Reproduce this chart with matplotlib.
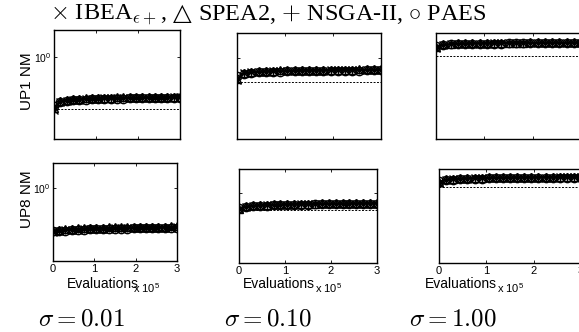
import matplotlib
matplotlib.use("Agg")
import matplotlib.pyplot as plt
from matplotlib.ticker import NullLocator, FixedLocator, NullFormatter

plt.rcParams["font.family"] = ["Liberation Sans", "DejaVu Sans"]
plt.rcParams["mathtext.fontset"] = "cm"

# Evaluations, in units of 1e5
evals = [0.0, 0.15, 0.3, 0.45, 0.6, 0.75, 0.9, 1.05, 1.2, 1.35, 1.5,
         1.65, 1.8, 1.95, 2.1, 2.25, 2.4, 2.55, 2.7, 2.85, 3.0]

algorithms = ["IBEA", "SPEA2", "NSGA-II", "PAES"]
sigmas = ["0.01", "0.10", "1.00"]
problems = ["UP1 NM", "UP8 NM"]

# UP1, sigma = 0.01
up1_s001_ibea = [0.350, 0.415, 0.425, 0.430, 0.434, 0.437, 0.439, 0.441, 0.443, 0.444, 0.445,
                 0.446, 0.447, 0.448, 0.449, 0.449, 0.450, 0.451, 0.451, 0.452, 0.452]
up1_s001_spea2 = [0.365, 0.425, 0.434, 0.439, 0.442, 0.445, 0.447, 0.448, 0.450, 0.451, 0.452,
                  0.453, 0.454, 0.455, 0.455, 0.456, 0.457, 0.457, 0.458, 0.458, 0.459]
up1_s001_nsga2 = [0.360, 0.420, 0.430, 0.435, 0.438, 0.441, 0.443, 0.445, 0.446, 0.447, 0.448,
                  0.449, 0.450, 0.451, 0.452, 0.452, 0.453, 0.454, 0.454, 0.455, 0.455]
up1_s001_paes = [0.380, 0.412, 0.420, 0.426, 0.430, 0.433, 0.435, 0.437, 0.439, 0.440, 0.441,
                 0.442, 0.443, 0.444, 0.445, 0.446, 0.446, 0.447, 0.447, 0.448, 0.448]
up1_s001_ref = 0.36

# UP1, sigma = 0.10
up1_s010_ibea = [0.640, 0.735, 0.750, 0.757, 0.762, 0.766, 0.769, 0.771, 0.773, 0.775, 0.776,
                 0.778, 0.779, 0.780, 0.781, 0.782, 0.783, 0.784, 0.785, 0.785, 0.786]
up1_s010_spea2 = [0.660, 0.748, 0.761, 0.768, 0.773, 0.777, 0.780, 0.782, 0.784, 0.786, 0.787,
                  0.789, 0.790, 0.791, 0.792, 0.793, 0.794, 0.795, 0.795, 0.796, 0.797]
up1_s010_nsga2 = [0.655, 0.742, 0.756, 0.763, 0.768, 0.772, 0.775, 0.777, 0.779, 0.781, 0.782,
                  0.783, 0.785, 0.786, 0.787, 0.788, 0.789, 0.789, 0.790, 0.791, 0.791]
up1_s010_paes = [0.700, 0.730, 0.744, 0.751, 0.756, 0.760, 0.763, 0.766, 0.768, 0.770, 0.771,
                 0.773, 0.774, 0.775, 0.776, 0.777, 0.778, 0.779, 0.780, 0.780, 0.781]
up1_s010_ref = 0.62

# UP1, sigma = 1.00
up1_s100_ibea = [0.760, 0.795, 0.803, 0.807, 0.810, 0.812, 0.813, 0.814, 0.815, 0.816, 0.817,
                 0.818, 0.818, 0.819, 0.819, 0.820, 0.820, 0.821, 0.821, 0.822, 0.822]
up1_s100_spea2 = [0.770, 0.805, 0.812, 0.816, 0.818, 0.820, 0.821, 0.822, 0.823, 0.824, 0.825,
                  0.826, 0.826, 0.827, 0.827, 0.828, 0.828, 0.829, 0.829, 0.830, 0.830]
up1_s100_nsga2 = [0.765, 0.800, 0.808, 0.812, 0.814, 0.816, 0.817, 0.818, 0.819, 0.820, 0.821,
                  0.822, 0.822, 0.823, 0.823, 0.824, 0.824, 0.825, 0.825, 0.826, 0.826]
up1_s100_paes = [0.790, 0.798, 0.803, 0.806, 0.808, 0.810, 0.811, 0.812, 0.813, 0.814, 0.815,
                 0.815, 0.816, 0.816, 0.817, 0.817, 0.818, 0.818, 0.819, 0.819, 0.820]
up1_s100_ref = 0.68

# UP8, sigma = 0.01
up8_s001_ibea = [0.380, 0.390, 0.395, 0.398, 0.400, 0.402, 0.404, 0.406, 0.407, 0.408, 0.410,
                 0.411, 0.412, 0.413, 0.414, 0.415, 0.416, 0.417, 0.418, 0.418, 0.419]
up8_s001_spea2 = [0.388, 0.400, 0.405, 0.409, 0.411, 0.413, 0.415, 0.417, 0.418, 0.420, 0.421,
                  0.422, 0.423, 0.424, 0.425, 0.426, 0.427, 0.428, 0.428, 0.429, 0.430]
up8_s001_nsga2 = [0.384, 0.395, 0.400, 0.403, 0.406, 0.408, 0.410, 0.411, 0.413, 0.414, 0.415,
                  0.416, 0.417, 0.418, 0.419, 0.420, 0.421, 0.422, 0.422, 0.423, 0.424]
up8_s001_paes = [0.385, 0.388, 0.392, 0.395, 0.397, 0.399, 0.401, 0.403, 0.404, 0.405, 0.407,
                 0.408, 0.409, 0.410, 0.411, 0.412, 0.412, 0.413, 0.414, 0.414, 0.415]
up8_s001_ref = 0.40

# UP8, sigma = 0.10
up8_s010_ibea = [0.690, 0.725, 0.740, 0.748, 0.754, 0.758, 0.762, 0.765, 0.768, 0.770, 0.772,
                 0.774, 0.776, 0.777, 0.779, 0.780, 0.781, 0.782, 0.783, 0.784, 0.785]
up8_s010_spea2 = [0.700, 0.738, 0.752, 0.760, 0.766, 0.770, 0.774, 0.777, 0.780, 0.782, 0.784,
                  0.786, 0.788, 0.789, 0.791, 0.792, 0.793, 0.794, 0.795, 0.796, 0.797]
up8_s010_nsga2 = [0.695, 0.732, 0.746, 0.754, 0.760, 0.764, 0.768, 0.771, 0.774, 0.776, 0.778,
                  0.780, 0.782, 0.783, 0.785, 0.786, 0.787, 0.788, 0.789, 0.790, 0.791]
up8_s010_paes = [0.710, 0.722, 0.735, 0.743, 0.749, 0.753, 0.757, 0.760, 0.763, 0.765, 0.767,
                 0.769, 0.771, 0.772, 0.774, 0.775, 0.776, 0.777, 0.778, 0.779, 0.780]
up8_s010_ref = 0.68

# UP8, sigma = 1.00
up8_s100_ibea = [0.750, 0.790, 0.800, 0.805, 0.809, 0.812, 0.814, 0.816, 0.818, 0.819, 0.820,
                 0.821, 0.822, 0.823, 0.824, 0.825, 0.825, 0.826, 0.826, 0.827, 0.827]
up8_s100_spea2 = [0.760, 0.800, 0.810, 0.815, 0.819, 0.822, 0.824, 0.826, 0.828, 0.829, 0.830,
                  0.831, 0.832, 0.833, 0.834, 0.835, 0.835, 0.836, 0.836, 0.837, 0.837]
up8_s100_nsga2 = [0.755, 0.795, 0.805, 0.810, 0.814, 0.817, 0.819, 0.821, 0.823, 0.824, 0.825,
                  0.826, 0.827, 0.828, 0.829, 0.830, 0.830, 0.831, 0.831, 0.832, 0.832]
up8_s100_paes = [0.780, 0.788, 0.796, 0.801, 0.805, 0.808, 0.810, 0.812, 0.814, 0.815, 0.816,
                 0.817, 0.818, 0.819, 0.820, 0.821, 0.821, 0.822, 0.822, 0.823, 0.823]
up8_s100_ref = 0.71

panels = [
    [(up1_s001_ibea, up1_s001_spea2, up1_s001_nsga2, up1_s001_paes, up1_s001_ref),
     (up1_s010_ibea, up1_s010_spea2, up1_s010_nsga2, up1_s010_paes, up1_s010_ref),
     (up1_s100_ibea, up1_s100_spea2, up1_s100_nsga2, up1_s100_paes, up1_s100_ref)],
    [(up8_s001_ibea, up8_s001_spea2, up8_s001_nsga2, up8_s001_paes, up8_s001_ref),
     (up8_s010_ibea, up8_s010_spea2, up8_s010_nsga2, up8_s010_paes, up8_s010_ref),
     (up8_s100_ibea, up8_s100_spea2, up8_s100_nsga2, up8_s100_paes, up8_s100_ref)],
]

# y-axis limits for each panel (log scale)
ylims = [[(0.2, 1.70), (0.2, 1.64), (0.2, 0.95)],
         [(0.2, 1.74), (0.2, 1.74), (0.2, 0.95)]]

# axes boxes in pixels: left, top, right, bottom
boxes = [[(54, 30, 180, 139), (237, 33, 381, 139), (436, 33, 581, 139)],
         [(53, 163, 177, 261), (239, 169, 377, 263), (439, 169, 581, 263)]]

markers = ["x", "^", "+", "o"]

W, H = 579, 332
fig = plt.figure(figsize=(W / 100, H / 100), dpi=100)


def fx(x):
    return x / W


def fy(y):
    return 1 - y / H


for r in range(2):
    for c in range(3):
        l, t, rr, b = boxes[r][c]
        ax = fig.add_axes([fx(l), fy(b), (rr - l) / W, (b - t) / H])
        ibea, spea2, nsga2, paes, ref = panels[r][c]
        ax.axhline(ref, color="black", lw=0.7, ls=(0, (2, 1.5)), zorder=1)
        for series, m in zip((ibea, spea2, nsga2, paes), markers):
            ax.plot(evals, series, color="black", lw=0.9, marker=m, ms=6,
                    mfc="none", mec="black", mew=1.0, zorder=2)
        ax.set_yscale("log")
        ax.set_ylim(*ylims[r][c])
        ax.set_xlim(0, 3)
        ax.yaxis.set_major_locator(FixedLocator([1.0]))
        ax.yaxis.set_minor_locator(NullLocator())
        ax.set_xticks([0, 1, 2, 3])
        ax.tick_params(direction="in", length=2.5, width=0.6, top=True, right=True,
                       labelsize=8, pad=2)
        if c != 0:
            ax.yaxis.set_major_formatter(NullFormatter())
        else:
            ax.tick_params(axis="y", labelsize=7.5)
        if r == 0:
            ax.xaxis.set_major_formatter(NullFormatter())
        for s in ax.spines.values():
            s.set_linewidth(1.0)

# y labels for each row
fig.text(fx(27), fy(81), problems[0], rotation=90, ha="center", va="center", fontsize=11)
fig.text(fx(27), fy(199), problems[1], rotation=90, ha="center", va="center", fontsize=11)

# x labels with multiplier
ev_x = [67, 243, 425]
mult_x = [133, 315, 497]
for ex, mx in zip(ev_x, mult_x):
    fig.text(fx(ex), fy(288), "Evaluations", ha="left", va="baseline", fontsize=10)
    fig.text(fx(mx), fy(293), r"x 10$^{\mathdefault{5}}$", ha="left", va="baseline", fontsize=8)

# sigma labels beneath each column
sig_cx = [82, 268, 453]
for cx, s in zip(sig_cx, sigmas):
    fig.text(fx(cx), fy(325), r"$\sigma = %s$" % s, ha="center", va="baseline", fontsize=18)

# legend line across the top, laid out piece by piece on a common baseline
title_size = 17.5
pieces = [
    (r"$\times$ IBEA$_{\epsilon+}$,", "Liberation Serif", 7),
    ("\u25B3", "DejaVu Serif", 6),
    (r"SPEA2, $+$ NSGA-II, $\circ$ PAES", "Liberation Serif", 0),
]
renderer = fig.canvas.get_renderer()
texts = []
widths = []
for s, fam, gap in pieces:
    t = fig.text(0, fy(20), s, ha="left", va="baseline", fontsize=title_size, family=fam)
    texts.append(t)
    widths.append(t.get_window_extent(renderer).width)
total = sum(widths) + sum(p[2] for p in pieces)
x0 = 268 - total / 2
for t, w, p in zip(texts, widths, pieces):
    t.set_x(fx(x0))
    x0 += w + p[2]

fig.savefig("out.png", dpi=100)
